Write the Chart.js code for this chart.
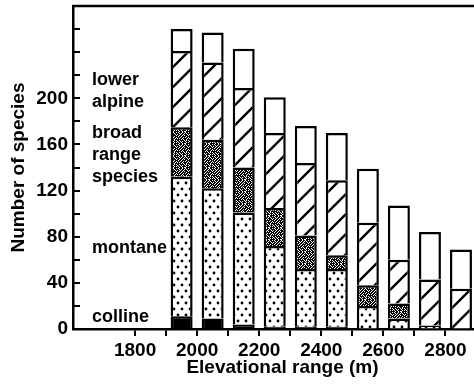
<!DOCTYPE html>
<html><head><meta charset="utf-8">
<script src="https://cdn.jsdelivr.net/npm/chart.js@4/dist/chart.umd.min.js"></script>
<style>
html,body{margin:0;padding:0;overflow:hidden;background:#fff;width:474px;height:387px}
#wrap{width:500px;height:387px;position:relative}
canvas{display:block}
</style>
</head><body><div id="wrap"><canvas id="c" width="500" height="387"></canvas></div>
<script>
// ---- data ----
const elevations  = [1950, 2050, 2150, 2250, 2350, 2450, 2550, 2650, 2750, 2850];
const colline     = [11, 9, 4, 2, 2, 2, 0, 0, 0, 0];
const montane     = [121, 113, 97, 70, 50, 50, 20, 9, 3, 0];
const broadRange  = [43, 42, 39, 33, 29, 12, 18, 13, 0, 0];
const lowerAlpine = [66, 67, 69, 65, 63, 65, 54, 38, 40, 35];
const upperZone   = [19, 26, 34, 31, 32, 41, 47, 47, 41, 34];

const xTickValues = [1800, 1900, 2000, 2100, 2200, 2300, 2400, 2500, 2600, 2700, 2800, 2900];
const xTickLabels = ['1800', '', '2000', '', '2200', '', '2400', '', '2600', '', '2800', ''];
const yTickValues = [0, 20, 40, 60, 80, 100, 120, 140, 160, 180, 200, 220, 240, 260, 280];
const yTickLabels = ['0', '', '40', '', '80', '', '120', '', '160', '', '200', '', '', '', ''];

const zoneLabels  = [['colline'], ['montane'], ['broad', 'range', 'species'], ['lower', 'alpine']];
const zoneLabelCenters = [10, 70, 151, 206]; // y value where each label block is centred

const xTitle = 'Elevational range (m)';
const yTitle = 'Number of species';

// ---- fill textures ----
function makePattern(w, h, draw) {
  const c = document.createElement('canvas');
  c.width = w; c.height = h;
  const g = c.getContext('2d');
  g.fillStyle = '#fff'; g.fillRect(0, 0, w, h);
  draw(g, w, h);
  return g.createPattern(c, 'repeat');
}
const dotPattern = makePattern(8, 12, (g) => {
  g.fillStyle = '#000';
  [[2, 3], [6, 9]].forEach(([x, y]) => { g.beginPath(); g.arc(x, y, 1.4, 0, Math.PI * 2); g.fill(); });
});
const stippleBits = [
  '110110110101', '101101011110', '011011101011', '110101110110',
  '101111011101', '011010110111', '110111101010', '101011011111',
  '111101010110', '010110111011', '101111010101', '110100111110'
];
const stipplePattern = makePattern(12, 12, (g) => {
  g.fillStyle = '#000';
  stippleBits.forEach((row, y) => { [...row].forEach((b, x) => { if (b === '1') g.fillRect(x, y, 1, 1); }); });
});
const hatchPattern = makePattern(20, 20, (g) => {
  g.strokeStyle = '#000'; g.lineWidth = 2.4;
  g.beginPath();
  g.moveTo(-5, 25); g.lineTo(25, -5);
  g.moveTo(-5, 5); g.lineTo(5, -5);
  g.moveTo(15, 25); g.lineTo(25, 15);
  g.stroke();
});

const FONT = '"Liberation Sans", Arial, Helvetica, sans-serif';

function series(label, values, fill) {
  return {
    label,
    data: elevations.map((e, i) => ({ x: e, y: values[i] })),
    backgroundColor: fill,
    borderColor: '#000',
    borderWidth: { top: 2.5, left: 2.5, right: 2.5, bottom: 0 },
    borderSkipped: false,
    barThickness: 22,
    inflateAmount: 0
  };
}

const decor = {
  id: 'decor',
  afterDraw(chart) {
    const { ctx, chartArea: a, scales: { y } } = chart;
    ctx.save();
    ctx.strokeStyle = '#000';
    ctx.lineWidth = 2.5;
    ctx.beginPath();
    ctx.moveTo(a.left - 1, a.top); ctx.lineTo(a.right, a.top); ctx.lineTo(a.right, a.bottom);
    ctx.stroke();
    ctx.lineWidth = 2;
    y.ticks.forEach(t => {
      const py = Math.round(y.getPixelForValue(t.value));
      ctx.beginPath(); ctx.moveTo(a.left, py); ctx.lineTo(a.left + 7, py); ctx.stroke();
    });
    ctx.fillStyle = '#000';
    ctx.font = 'bold 18px ' + FONT;
    ctx.textBaseline = 'middle';
    ctx.textAlign = 'left';
    zoneLabels.forEach((lines, i) => {
      const cy = y.getPixelForValue(zoneLabelCenters[i]);
      const lh = 22;
      lines.forEach((s, k) => {
        ctx.fillText(s, a.left + 19, cy + (k - (lines.length - 1) / 2) * lh);
      });
    });
    ctx.restore();
  }
};

new Chart(document.getElementById('c'), {
  type: 'bar',
  data: {
    datasets: [
      series('colline', colline, '#000'),
      series('montane', montane, dotPattern),
      series('broad range species', broadRange, stipplePattern),
      series('lower alpine', lowerAlpine, hatchPattern),
      series('upper zone', upperZone, '#fff')
    ]
  },
  options: {
    responsive: false,
    animation: false,
    events: [],
    layout: { padding: { top: 6, right: 8, left: 0, bottom: 0 } },
    plugins: { legend: { display: false }, tooltip: { enabled: false } },
    scales: {
      x: {
        type: 'linear',
        stacked: true,
        offset: false,
        min: 1600,
        max: 2950,
        afterBuildTicks: (s) => { s.ticks = xTickValues.map(v => ({ value: v })); },
        afterFit: (s) => { s.height = 58; s.paddingLeft = 0; s.paddingRight = 0; },
        ticks: {
          autoSkip: false,
          maxRotation: 0,
          padding: 3,
          color: '#000',
          font: { family: FONT, size: 19, weight: 'bold' },
          callback: (v) => { const i = xTickValues.indexOf(v); return i >= 0 ? xTickLabels[i] : ''; }
        },
        grid: { offset: false, drawOnChartArea: false, drawTicks: true, tickLength: 7, color: '#000', lineWidth: 2 },
        border: { display: true, color: '#000', width: 2.5 },
        title: { display: true, text: xTitle, color: '#000', font: { family: FONT, size: 19, weight: 'bold' }, padding: { top: 0, bottom: 8 } }
      },
      y: {
        stacked: true,
        min: 0,
        max: 280,
        afterBuildTicks: (s) => { s.ticks = yTickValues.map(v => ({ value: v })); },
        afterFit: (s) => { s.width = 73; s.paddingTop = 0; s.paddingBottom = 0; },
        ticks: {
          autoSkip: false,
          padding: 5,
          color: '#000',
          font: { family: FONT, size: 19, weight: 'bold' },
          callback: (v) => { const i = yTickValues.indexOf(v); return i >= 0 ? yTickLabels[i] : ''; }
        },
        grid: { drawOnChartArea: false, drawTicks: false },
        border: { display: true, color: '#000', width: 2.5 },
        title: { display: true, text: yTitle, color: '#000', font: { family: FONT, size: 19, weight: 'bold' }, padding: { top: 7, bottom: 0 } }
      }
    }
  },
  plugins: [decor]
});
</script>
</body></html>
